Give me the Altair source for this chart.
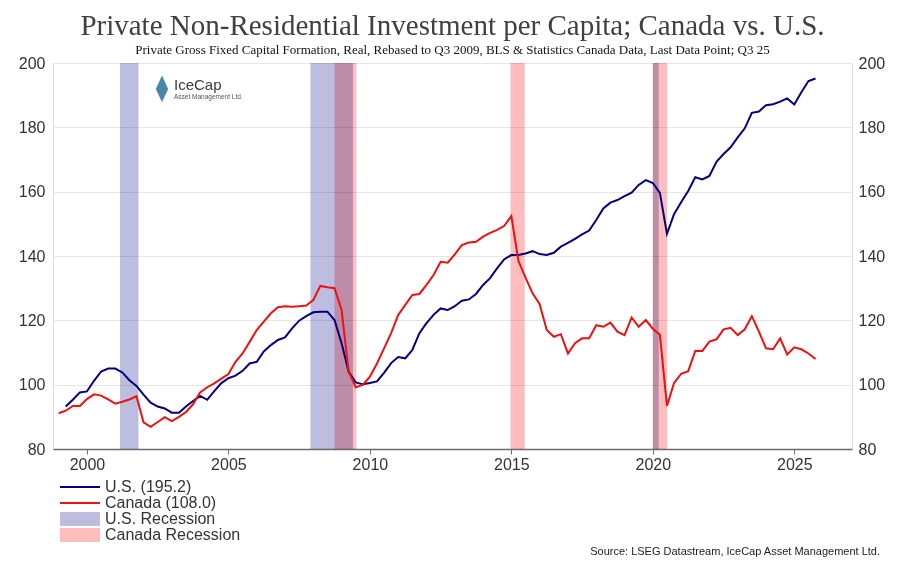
import altair as alt
import pandas as pd

# ---------------- data ----------------
years = list(range(1999, 2026))
quarter_pos = [y + q / 4 for y in years for q in range(4)]  # quarterly positions (quarter-end dating)

us_label = "U.S. (195.2)"
ca_label = "Canada (108.0)"

us_values = [
    None, 93.2, 95.3, 97.6,
    97.9, 101.2, 104.1, 105.0,
    105.0, 103.8, 101.4, 99.6,
    96.9, 94.4, 93.2, 92.6,
    91.3, 91.3, 93.2, 94.9,
    96.5, 95.3, 98.0, 100.5,
    102.0, 102.8, 104.3, 106.6,
    107.1, 110.3, 112.3, 113.9,
    114.7, 117.5, 119.9, 121.3,
    122.5, 122.7, 122.7, 120.1,
    112.9, 104.0, 100.7, 100.1,
    100.5, 101.0, 103.7, 106.7,
    108.6, 108.2, 110.8, 116.0,
    119.1, 121.7, 123.7, 123.2,
    124.4, 126.1, 126.5, 128.2,
    131.0, 133.1, 136.2, 139.0,
    140.3, 140.3, 140.8, 141.5,
    140.6, 140.3, 141.0, 142.9,
    144.1, 145.3, 146.7, 147.9,
    151.2, 154.8, 156.6, 157.4,
    158.6, 159.7, 162.1, 163.6,
    162.7, 159.6, 146.9, 153.0,
    156.7, 160.2, 164.5, 163.8,
    164.9, 169.3, 171.7, 173.8,
    176.9, 179.7, 184.5, 184.9,
    186.9, 187.2, 188.0, 189.0,
    187.1, 190.9, 194.4, 195.2,
]

canada_values = [
    91.1, 91.9, 93.4, 93.4,
    95.5, 97.0, 96.6, 95.4,
    94.1, 94.7, 95.4, 96.4,
    88.3, 86.9, 88.4, 89.9,
    88.7, 90.0, 91.5, 93.9,
    97.6, 99.2, 100.4, 101.9,
    103.3, 107.1, 109.7, 113.3,
    117.0, 119.6, 122.2, 124.1,
    124.4, 124.2, 124.4, 124.6,
    126.3, 130.7, 130.3, 130.0,
    123.2, 104.0, 99.2, 99.9,
    102.5, 106.6, 111.3, 116.0,
    121.7, 124.8, 127.9, 128.2,
    131.0, 134.1, 138.2, 137.9,
    140.5, 143.4, 144.2, 144.4,
    146.0, 147.2, 148.1, 149.4,
    152.4, 138.5, 133.3, 128.4,
    125.0, 117.0, 114.9, 115.7,
    109.7, 112.9, 114.4, 114.4,
    118.5, 118.0, 119.3, 116.5,
    115.4, 120.9, 118.0, 120.1,
    117.4, 115.5, 93.4, 100.5,
    103.4, 104.2, 110.5, 110.5,
    113.4, 114.1, 117.2, 117.7,
    115.4, 117.2, 121.3, 116.5,
    111.3, 111.0, 114.4, 109.4,
    111.6, 111.0, 109.7, 108.0,
]

rec_names = ["U.S. Recession", "U.S. Recession", "U.S. Recession",
             "Canada Recession", "Canada Recession", "Canada Recession"]
rec_start = [2001.17, 2007.90, 2020.00, 2008.75, 2014.97, 2020.00]
rec_end = [2001.82, 2009.40, 2020.21, 2009.52, 2015.47, 2020.50]

x_ticks = [2000, 2005, 2010, 2015, 2020, 2025]
y_ticks = [80, 100, 120, 140, 160, 180, 200]

rows = []
for t, v in zip(quarter_pos, us_values):
    if v is not None:
        rows.append({"t": t, "value": v, "series": us_label})
for t, v in zip(quarter_pos, canada_values):
    rows.append({"t": t, "value": v, "series": ca_label})
lines_df = pd.DataFrame(rows)
rec_df = pd.DataFrame({"name": rec_names, "start": rec_start, "end": rec_end})
one = pd.DataFrame({"k": [0]})

# ---------------- styling ----------------
SANS = "Liberation Sans"
SERIF = "Liberation Serif"
xscale = alt.Scale(domain=[1998.8, 2027.04], nice=False, zero=False)
yscale = alt.Scale(domain=[80, 200], nice=False, zero=False)

x_axis = alt.Axis(values=x_ticks, format="d", title=None, grid=False,
                  domain=True, domainColor="#6b6b6b", domainWidth=1.5,
                  ticks=True, tickColor="#6b6b6b", tickSize=5, tickWidth=1,
                  labelFont=SANS, labelFontSize=16, labelColor="#333333",
                  labelPadding=2)
y_left = alt.Axis(values=y_ticks, orient="left", title=None, grid=True,
                  gridColor="#e6e6e6", gridWidth=1, domain=False, ticks=False,
                  labelFont=SANS, labelFontSize=16, labelColor="#333333",
                  labelPadding=8)
y_right = alt.Axis(values=y_ticks, orient="right", title=None, grid=False,
                   domain=False, ticks=False,
                   labelFont=SANS, labelFontSize=16, labelColor="#333333",
                   labelPadding=6)

# legend symbols: small nominal size (keeps rows tight), wide custom paths
BAND_PATH = "M-3.33,-1.15L3.33,-1.15L3.33,1.15L-3.33,1.15Z"
LINE_PATH = "M-3.33,0L3.33,0"

recessions = alt.Chart(rec_df).mark_rect(blend="multiply").encode(
    x=alt.X("start:Q", scale=xscale, axis=x_axis),
    x2="end:Q",
    fill=alt.Fill("name:N",
                  scale=alt.Scale(domain=["U.S. Recession", "Canada Recession"],
                                  range=["#BDBDE0", "#FFBDBD"]),
                  legend=alt.Legend(title=None, orient="none", legendX=19, legendY=448,
                                    direction="vertical",
                                    symbolType=BAND_PATH,
                                    symbolSize=144, symbolStrokeWidth=0,
                                    symbolOpacity=1,
                                    labelFont=SANS, labelFontSize=16,
                                    labelColor="#333333", labelOffset=17,
                                    rowPadding=-0.5, padding=0)),
)

lines = alt.Chart(lines_df).mark_line(strokeWidth=2).encode(
    x=alt.X("t:Q", scale=xscale, axis=x_axis),
    y=alt.Y("value:Q", scale=yscale, axis=y_left),
    stroke=alt.Stroke("series:N",
                      scale=alt.Scale(domain=[us_label, ca_label],
                                      range=["#000080", "#EE1111"]),
                      legend=alt.Legend(title=None, orient="none", legendX=19, legendY=416,
                                        direction="vertical", symbolType=LINE_PATH,
                                        symbolSize=144, symbolStrokeWidth=2,
                                        labelFont=SANS, labelFontSize=16,
                                        labelColor="#333333", labelOffset=17,
                                        rowPadding=0, padding=0)),
    detail="series:N",
)

right_axis = alt.Chart(lines_df).mark_line(opacity=0).encode(
    x=alt.X("t:Q", scale=xscale, axis=x_axis),
    y=alt.Y("value:Q", scale=yscale, axis=y_right),
    detail="series:N",
)

logo_mark = alt.Chart(one).mark_point(
    shape="M0,-1.3L0.55,-0.1L0,1.1L-0.55,-0.1Z", filled=True, size=500,
    color="#3f7fa8", opacity=0.95,
).encode(x=alt.value(109), y=alt.value(27))

logo_name = alt.Chart(one).mark_text(
    text="IceCap", font=SANS, fontSize=15, color="#3a3a3a", align="left", baseline="middle",
).encode(x=alt.value(121), y=alt.value(22))

logo_sub = alt.Chart(one).mark_text(
    text="Asset Management Ltd.", font=SANS, fontSize=6.5, color="#555555",
    align="left", baseline="middle",
).encode(x=alt.value(121), y=alt.value(34))

source = alt.Chart(one).mark_text(
    text="Source: LSEG Datastream, IceCap Asset Management Ltd.", font=SANS,
    fontSize=11, color="#222222", align="right", baseline="middle",
).encode(x=alt.value(827), y=alt.value(489))

chart = alt.layer(
    recessions, lines, right_axis, logo_mark, logo_name, logo_sub, source
).resolve_axis(y="independent").properties(
    width=799,
    height=386,
    padding={"left": 45, "top": 55, "right": 53, "bottom": 112},
    autosize=alt.AutoSizeParams(type="none"),
    title=alt.TitleParams(
        text="Private Non-Residential Investment per Capita; Canada vs. U.S.",
        subtitle="Private Gross Fixed Capital Formation, Real, Rebased to Q3 2009, BLS & Statistics Canada Data, Last Data Point; Q3 25",
        font=SERIF, fontSize=29, fontWeight="normal", color="#404040",
        subtitleFont=SERIF, subtitleFontSize=13, subtitleColor="#111111",
        subtitlePadding=3, anchor="middle", frame="group", offset=-2,
    ),
).configure_view(stroke=None).configure(background="white")

chart.save("out.html", embed_options={"renderer": "svg", "actions": False})
